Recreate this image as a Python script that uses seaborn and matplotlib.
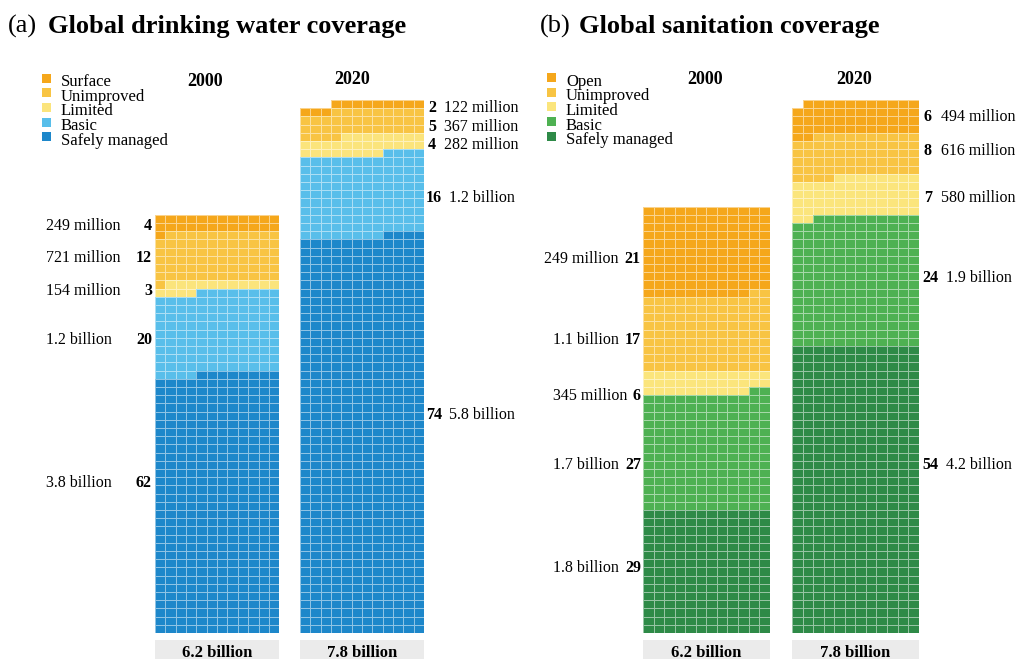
import numpy as np
import matplotlib
matplotlib.use("Agg")
import matplotlib.pyplot as plt
from matplotlib.colors import ListedColormap
from matplotlib.patches import Rectangle
import seaborn as sns

# ---------------- data ----------------
years = ["2000", "2020"]
totals = ["6.2 billion", "7.8 billion"]

water_levels = ["Surface", "Unimproved", "Limited", "Basic", "Safely managed"]
san_levels = ["Open", "Unimproved", "Limited", "Basic", "Safely managed"]

# population per service level in millions (top of the stack first)
water_2000 = [249, 721, 154, 1200, 3800]
water_2020 = [122, 367, 282, 1200, 5800]
san_2000 = [1300, 1100, 345, 1700, 1800]
san_2020 = [494, 616, 580, 1900, 4200]

# share of population, percent
water_2000_pct = [4, 12, 3, 20, 62]
water_2020_pct = [2, 5, 4, 16, 74]
san_2000_pct = [21, 17, 6, 27, 29]
san_2020_pct = [6, 8, 7, 24, 54]

# population labels
water_2000_txt = ["249 million", "721 million", "154 million", "1.2 billion", "3.8 billion"]
water_2020_txt = ["122 million", "367 million", "282 million", "1.2 billion", "5.8 billion"]
san_2000_txt = ["249 million", "1.1 billion", "345 million", "1.7 billion", "1.8 billion"]
san_2020_txt = ["494 million", "616 million", "580 million", "1.9 billion", "4.2 billion"]

water_colors = ["#F5A71B", "#F8C443", "#FBE47C", "#58BEEA", "#1D87CA"]
san_colors = ["#F5A71B", "#F8C443", "#FBE57C", "#4EB152", "#2E8A47"]

# ---------------- layout ----------------
W, H = 1019, 659
UNIT = 10          # millions of people per cell
NCOL = 12
ROW_H = 8.2        # px per cell row
BASE = 633         # px, bottom of the stacks
SERIF = "Liberation Serif"
LABEL_FS = 11.5

sns.set_theme(style="white")
plt.rcParams["font.family"] = [SERIF, "DejaVu Serif"]
plt.rcParams["text.color"] = "black"

fig = plt.figure(figsize=(W / 100, H / 100), dpi=100)
ov = fig.add_axes([0, 0, 1, 1])
ov.set_xlim(0, W)
ov.set_ylim(H, 0)
ov.axis("off")


def waffle_matrix(values):
    counts = [int(round(v / UNIT)) for v in values]
    seq = []
    for k in range(len(counts) - 1, -1, -1):
        seq += [k] * counts[k]
    nrows = -(-len(seq) // NCOL)
    mat = np.full((nrows, NCOL), np.nan)
    for i, k in enumerate(seq):
        mat[nrows - 1 - i // NCOL, NCOL - 1 - i % NCOL] = k
    return mat


def draw_stack(values, colors, left, cw, total):
    mat = waffle_matrix(values)
    nrows = mat.shape[0]
    width = NCOL * cw
    height = nrows * ROW_H
    ax = fig.add_axes([left / W, (H - BASE) / H, width / W, height / H])
    sns.heatmap(mat, ax=ax, cmap=ListedColormap(colors), vmin=-0.5, vmax=len(colors) - 0.5,
                cbar=False, linewidths=0.7, linecolor=(1, 1, 1, 0.5),
                xticklabels=False, yticklabels=False)
    ax.set_axis_off()
    ov.add_patch(Rectangle((left, 640), width, 20, facecolor="#EBEBEB", edgecolor="none"))
    ov.text(left + width / 2, 653, total, ha="center", va="center",
            fontsize=12, fontweight="bold")


def legend(levels, colors, x, y0):
    for i, (lab, col) in enumerate(zip(levels, colors)):
        yc = y0 + i * 14.7
        ov.add_patch(Rectangle((x, yc - 4.5), 9, 9, facecolor=col, edgecolor="none"))
        ov.text(x + 19, yc + 8, lab, ha="left", va="baseline", fontsize=12)


def left_labels(pct, txt, ys, num_right, txt_x, txt_align):
    for p, t, y in zip(pct, txt, ys):
        ov.text(num_right, y, str(p), ha="right", va="center", fontsize=LABEL_FS,
                fontweight="bold")
        ov.text(txt_x(p), y, t, ha=txt_align, va="center", fontsize=LABEL_FS)


def right_labels(pct, txt, ys, num_left, gap):
    for p, t, y in zip(pct, txt, ys):
        n = len(str(p))
        x0 = num_left - 2 * (n - 1)
        ov.text(x0, y, str(p), ha="left", va="center", fontsize=LABEL_FS,
                fontweight="bold")
        ov.text(x0 + 7.6 * n + gap, y, t, ha="left", va="center", fontsize=LABEL_FS)


# titles
ov.text(8, 33, "(a)", ha="left", va="baseline", fontsize=19)
ov.text(48, 33, "Global drinking water coverage", ha="left", va="baseline",
        fontsize=19, fontweight="bold")
ov.text(540, 33, "(b)", ha="left", va="baseline", fontsize=19)
ov.text(579, 33, "Global sanitation coverage", ha="left", va="baseline",
        fontsize=19, fontweight="bold")

# panel (a): drinking water
CW_A = 10.35
draw_stack(water_2000, water_colors, 155, CW_A, totals[0])
draw_stack(water_2020, water_colors, 300, CW_A, totals[1])
ov.text(205, 82, years[0], ha="center", va="center", fontsize=13, fontweight="bold")
ov.text(352, 79, years[1], ha="center", va="center", fontsize=13, fontweight="bold")
legend(water_levels, water_colors, 42, 78)
left_labels(water_2000_pct, water_2000_txt, [226, 258, 291, 340, 483],
            152, lambda p: 46, "left")
right_labels(water_2020_pct, water_2020_txt, [108, 127, 145, 198, 415], 428, 8)

# panel (b): sanitation
CW_B = 10.55
draw_stack(san_2000, san_colors, 643, CW_B, totals[0])
draw_stack(san_2020, san_colors, 792, CW_B, totals[1])
ov.text(705, 79, years[0], ha="center", va="center", fontsize=13, fontweight="bold")
ov.text(854, 79, years[1], ha="center", va="center", fontsize=13, fontweight="bold")
legend(san_levels, san_colors, 547, 77.5)
left_labels(san_2000_pct, san_2000_txt, [259, 340, 396, 465, 568],
            641, lambda p: 641 - 8 * len(str(p)) - 6, "right")
right_labels(san_2020_pct, san_2020_txt, [117, 151, 198, 278, 465], 924, 9)

fig.savefig("out.png", dpi=100)
